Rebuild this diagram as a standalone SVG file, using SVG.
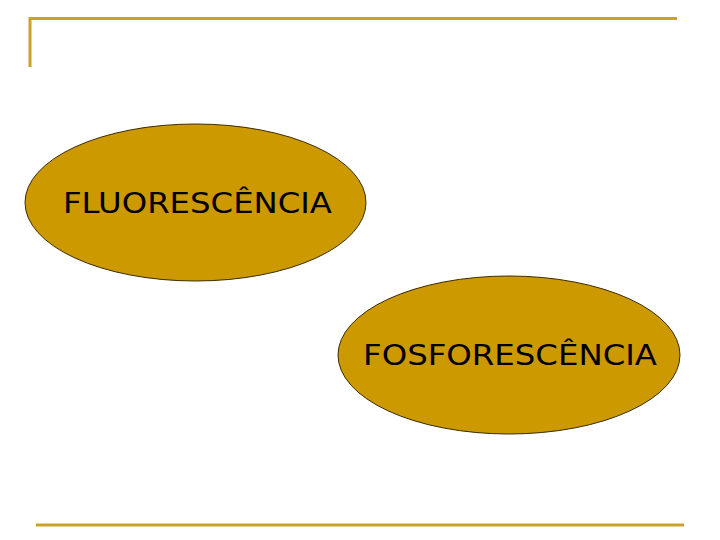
<svg xmlns="http://www.w3.org/2000/svg" width="720" height="540" viewBox="0 0 720 540">
<style>
.rule{stroke:#C9A227;stroke-width:3;fill:none}
.node ellipse{fill:#CC9900;stroke:#3a2a00;stroke-width:1}
.node text{font-family:"DejaVu Sans","Liberation Sans",sans-serif;font-size:28px;fill:#000}
</style>
<rect width="720" height="540" fill="#fff"/>
<path class="rule" d="M30,67 V18.5 H677"/>
<path class="rule" d="M36,525 H684" stroke="#BF9F37"/>
<g id="fluorescencia" class="node">
<ellipse cx="195.5" cy="202.5" rx="170.5" ry="78.5"/>
<text x="63" y="213" textLength="269" lengthAdjust="spacingAndGlyphs">FLUORESCÊNCIA</text>
</g>
<g id="fosforescencia" class="node">
<ellipse cx="509" cy="355" rx="171" ry="79"/>
<text x="363" y="365" textLength="294" lengthAdjust="spacingAndGlyphs">FOSFORESCÊNCIA</text>
</g>
<g id="connectors"/>
</svg>
